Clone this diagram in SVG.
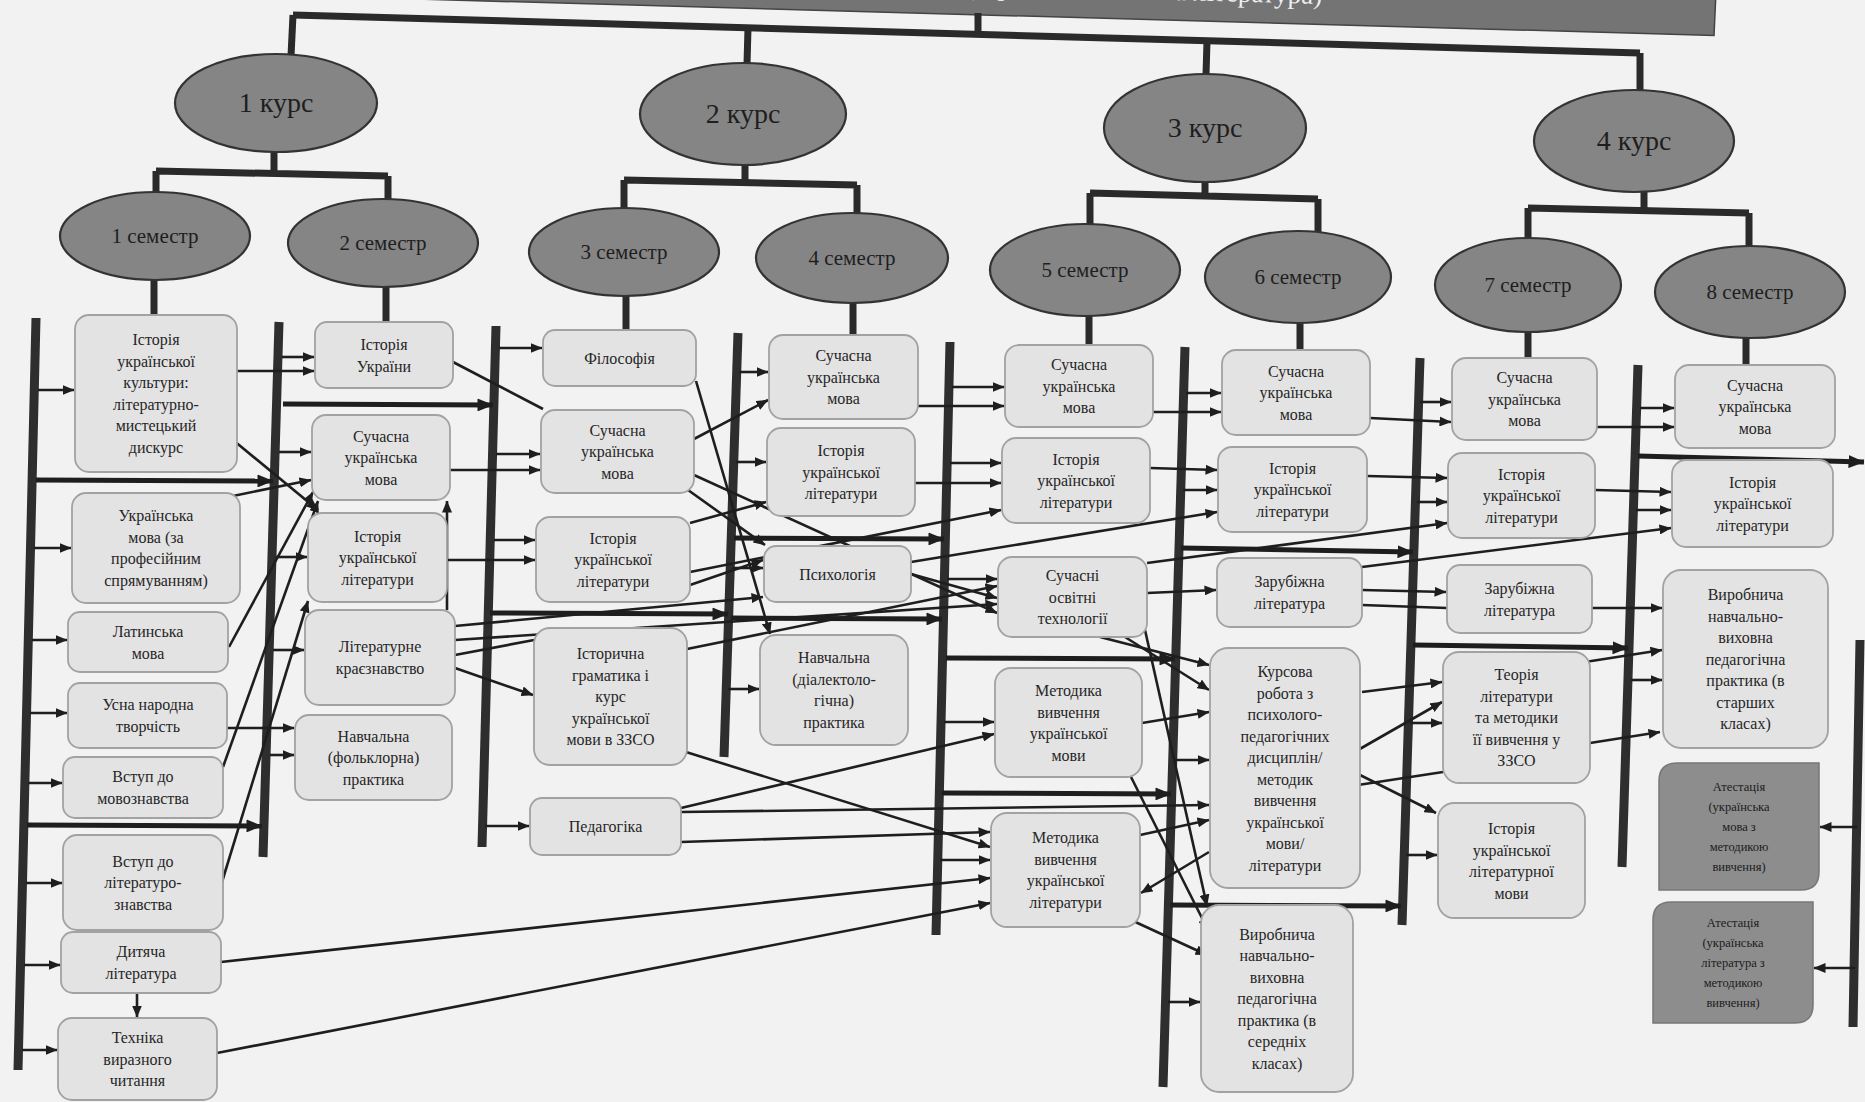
<svg xmlns="http://www.w3.org/2000/svg" width="1865" height="1102" viewBox="0 0 1865 1102">
<defs>
<marker id="ah" viewBox="0 0 12 10" refX="11.5" refY="5" markerWidth="12" markerHeight="10" markerUnits="userSpaceOnUse" orient="auto"><path d="M0,0 L12,5 L0,10 z" fill="#1e1e1e"/></marker>
<marker id="ahT" viewBox="0 0 16 13" refX="15.5" refY="6.5" markerWidth="16" markerHeight="13" markerUnits="userSpaceOnUse" orient="auto"><path d="M0,0 L16,6.5 L0,13 z" fill="#1e1e1e"/></marker>
</defs>
<style>
.tree{stroke:#2a2a2a;stroke-width:7;fill:none;stroke-linejoin:miter}
.rail{stroke:#2e2e2e;stroke-width:9;fill:none}
.c{stroke:#1e1e1e;stroke-width:2.6;fill:none;marker-end:url(#ah)}
.cn{stroke:#1e1e1e;stroke-width:2.6;fill:none}
.t{stroke:#1e1e1e;stroke-width:5;fill:none;marker-end:url(#ahT)}
.el{fill:#858585;stroke:#333;stroke-width:2.2}
.box{fill:#e3e3e3;stroke:#a2a2a2;stroke-width:1.8}
.att{fill:#8d8d8d;stroke:#777;stroke-width:1.5}
.et{font-family:"Liberation Serif",serif;fill:#1e1e1e;text-anchor:middle}
.bt{font-family:"Liberation Serif",serif;font-size:16px;fill:#262626;text-anchor:middle}
.at{font-family:"Liberation Serif",serif;font-size:12.5px;fill:#1c1c1c;text-anchor:middle}
</style>
<rect x="0" y="0" width="1865" height="1102" fill="#f2f2f2"/>

<g id="banner">
<polygon points="380,-30 1717,-30 1714,35.4 380,-2" fill="#747474" stroke="#444" stroke-width="1.5"/>
<text x="1322" y="4" transform="rotate(1.6 1322 4)" font-family="Liberation Serif, serif" font-size="27" fill="#eeeeee" text-anchor="end">(українська мова та література)</text>
</g>

<g id="tree">
<path class="tree" d="M293,15 L1640,53"/>
<path class="tree" d="M293,15 L291,56"/>
<path class="tree" d="M748,28 L747,64"/>
<path class="tree" d="M978,34 L978,13"/>
<path class="tree" d="M1207,41 L1206,75"/>
<path class="tree" d="M1640,53 L1640,90"/>
<path class="tree" d="M274,151 L274,172 M156,171 L388,176 M156,171 L156,193 M388,176 L388,200"/>
<path class="tree" d="M154,279 L154,316 M386,286 L386,323"/>
<path class="tree" d="M745,164 L745,182 M624,180 L857,185 M624,180 L624,209 M857,185 L857,214"/>
<path class="tree" d="M626,295 L626,331 M853,302 L853,336"/>
<path class="tree" d="M1205,181 L1205,195 M1090,193 L1318,199 M1090,193 L1090,225 M1318,199 L1318,232"/>
<path class="tree" d="M1089,315 L1089,346 M1300,322 L1300,351"/>
<path class="tree" d="M1644,191 L1644,210 M1528,208 L1749,213 M1528,208 L1528,239 M1749,213 L1749,247"/>
<path class="tree" d="M1528,331 L1528,359 M1746,337 L1746,366"/>
</g>

<g id="rails">
<path class="rail" d="M36,318 L18,1070"/>
<path class="rail" d="M279,322 L263,857"/>
<path class="rail" d="M496,326 L482,847"/>
<path class="rail" d="M738,333 L724,757"/>
<path class="rail" d="M950,342 L936,935"/>
<path class="rail" d="M1185,347 L1163,1087"/>
<path class="rail" d="M1420,358 L1402,925"/>
<path class="rail" d="M1638,365 L1622,867"/>
<path class="rail" d="M1860,640 L1853,1027"/>
</g>

<g id="connectors">
<path class="c" d="M38,390 L74,390"/>
<path class="c" d="M34,548 L71,548"/>
<path class="c" d="M32,640 L67,640"/>
<path class="c" d="M30,713 L67,713"/>
<path class="c" d="M28,783 L62,783"/>
<path class="c" d="M26,883 L62,883"/>
<path class="c" d="M24,965 L60,965"/>
<path class="c" d="M22,1050 L57,1050"/>
<path class="t" d="M36,480 L273,481"/>
<path class="t" d="M27,825 L262,826"/>
<path class="c" d="M282,357 L314,357"/>
<path class="c" d="M237,371 L314,371"/>
<path class="c" d="M233,440 L318,510"/>
<path class="c" d="M228,497 L311,480"/>
<path class="c" d="M229,647 L313,492"/>
<path class="c" d="M223,767 L318,501"/>
<path class="c" d="M222,882 L308,601"/>
<path class="c" d="M279,452 L311,452"/>
<path class="c" d="M276,557 L307,557"/>
<path class="c" d="M273,650 L304,650"/>
<path class="c" d="M227,728 L294,728"/>
<path class="c" d="M270,755 L294,755"/>
<path class="c" d="M447,610 L447,501"/>
<path class="c" d="M221,962 L990,878"/>
<path class="c" d="M217,1053 L990,903"/>
<path class="c" d="M137,993 L137,1017"/>
<path class="t" d="M283,404 L493,405"/>
<path class="c" d="M499,348 L542,348"/>
<path class="cn" d="M453,362 L543,409"/>
<path class="c" d="M496,454 L540,454"/>
<path class="c" d="M450,470 L540,470"/>
<path class="c" d="M494,540 L535,540"/>
<path class="c" d="M447,560 L535,560"/>
<path class="c" d="M455,668 L533,695"/>
<path class="c" d="M455,626 L763,597"/>
<path class="c" d="M455,640 L997,604"/>
<path class="cn" d="M455,655 L534,640"/>
<path class="c" d="M485,826 L529,826"/>
<path class="t" d="M490,613 L728,614"/>
<path class="c" d="M739,372 L768,372"/>
<path class="c" d="M694,439 L768,400"/>
<path class="c" d="M736,462 L766,462"/>
<path class="c" d="M690,523 L766,502"/>
<path class="c" d="M732,568 L763,568"/>
<path class="c" d="M690,585 L763,560"/>
<path class="c" d="M696,381 L770,634"/>
<path class="c" d="M688,490 L765,545"/>
<path class="c" d="M694,475 L997,613"/>
<path class="c" d="M690,572 L1001,510"/>
<path class="c" d="M687,649 L997,586"/>
<path class="c" d="M686,752 L990,847"/>
<path class="c" d="M728,689 L759,689"/>
<path class="c" d="M681,808 L994,734"/>
<path class="c" d="M681,812 L1209,805"/>
<path class="c" d="M681,842 L990,832"/>
<path class="t" d="M734,538 L944,539"/>
<path class="t" d="M731,618 L942,619"/>
<path class="c" d="M952,387 L1004,387"/>
<path class="c" d="M918,406 L1004,406"/>
<path class="c" d="M950,463 L1001,463"/>
<path class="c" d="M915,483 L1001,483"/>
<path class="c" d="M911,574 L997,598"/>
<path class="c" d="M911,562 L1217,512"/>
<path class="c" d="M947,579 L997,579"/>
<path class="c" d="M944,722 L994,722"/>
<path class="c" d="M940,860 L990,860"/>
<path class="t" d="M946,658 L1175,659"/>
<path class="t" d="M942,793 L1171,794"/>
<path class="c" d="M1186,393 L1221,393"/>
<path class="c" d="M1153,412 L1221,412"/>
<path class="c" d="M1150,468 L1217,470"/>
<path class="c" d="M1183,490 L1217,490"/>
<path class="t" d="M1181,548 L1413,552"/>
<path class="c" d="M1147,593 L1216,590"/>
<path class="c" d="M1147,563 L1447,523"/>
<path class="c" d="M1100,637 L1209,665"/>
<path class="c" d="M1125,637 L1209,690"/>
<path class="c" d="M1145,630 L1207,906"/>
<path class="c" d="M1142,723 L1209,712"/>
<path class="c" d="M1131,777 L1208,930"/>
<path class="c" d="M1175,760 L1209,760"/>
<path class="c" d="M1140,835 L1209,820"/>
<path class="c" d="M1209,852 L1141,893"/>
<path class="c" d="M1131,920 L1207,955"/>
<path class="c" d="M1168,1002 L1200,1002"/>
<path class="t" d="M1170,905 L1401,906"/>
<path class="c" d="M1420,402 L1451,402"/>
<path class="c" d="M1370,418 L1451,422"/>
<path class="c" d="M1367,476 L1447,478"/>
<path class="c" d="M1417,502 L1447,502"/>
<path class="c" d="M1362,590 L1446,592"/>
<path class="cn" d="M1362,605 L1447,608"/>
<path class="c" d="M1362,567 L1671,528"/>
<path class="t" d="M1413,645 L1628,648"/>
<path class="c" d="M1362,692 L1442,682"/>
<path class="c" d="M1410,723 L1442,723"/>
<path class="c" d="M1358,750 L1442,702"/>
<path class="cn" d="M1443,772 L1358,785"/>
<path class="c" d="M1360,775 L1436,813"/>
<path class="c" d="M1406,855 L1437,855"/>
<path class="c" d="M1640,408 L1674,408"/>
<path class="c" d="M1597,427 L1674,427"/>
<path class="t" d="M1638,456 L1864,462"/>
<path class="c" d="M1595,490 L1671,492"/>
<path class="c" d="M1636,510 L1671,510"/>
<path class="c" d="M1592,608 L1662,608"/>
<path class="c" d="M1585,662 L1662,650"/>
<path class="c" d="M1631,680 L1662,680"/>
<path class="c" d="M1590,743 L1660,732"/>
<path class="c" d="M1857,827 L1820,827"/>
<path class="c" d="M1855,968 L1814,968"/>
</g>

<g id="kurs1"><ellipse class="el" cx="276" cy="103" rx="101" ry="49"/><text class="et" x="276" y="112" font-size="28">1 курс</text></g>
<g id="kurs2"><ellipse class="el" cx="743" cy="114" rx="103" ry="51"/><text class="et" x="743" y="123" font-size="28">2 курс</text></g>
<g id="kurs3"><ellipse class="el" cx="1205" cy="128" rx="101" ry="54"/><text class="et" x="1205" y="137" font-size="28">3 курс</text></g>
<g id="kurs4"><ellipse class="el" cx="1634" cy="141" rx="100" ry="51"/><text class="et" x="1634" y="150" font-size="28">4 курс</text></g>
<g id="sem1"><ellipse class="el" cx="155" cy="236" rx="95" ry="44"/><text class="et" x="155" y="243" font-size="21">1 семестр</text></g>
<g id="sem2"><ellipse class="el" cx="383" cy="243" rx="95" ry="44"/><text class="et" x="383" y="250" font-size="21">2 семестр</text></g>
<g id="sem3"><ellipse class="el" cx="624" cy="252" rx="95" ry="44"/><text class="et" x="624" y="259" font-size="21">3 семестр</text></g>
<g id="sem4"><ellipse class="el" cx="852" cy="258" rx="96" ry="45"/><text class="et" x="852" y="265" font-size="21">4 семестр</text></g>
<g id="sem5"><ellipse class="el" cx="1085" cy="270" rx="95" ry="46"/><text class="et" x="1085" y="277" font-size="21">5 семестр</text></g>
<g id="sem6"><ellipse class="el" cx="1298" cy="277" rx="93" ry="46"/><text class="et" x="1298" y="284" font-size="21">6 семестр</text></g>
<g id="sem7"><ellipse class="el" cx="1528" cy="285" rx="93" ry="47"/><text class="et" x="1528" y="292" font-size="21">7 семестр</text></g>
<g id="sem8"><ellipse class="el" cx="1750" cy="292" rx="95" ry="46"/><text class="et" x="1750" y="299" font-size="21">8 семестр</text></g>

<g id="b1_1"><rect class="box" x="75" y="315" width="162" height="157" rx="14"/><text class="bt" x="156" y="345"><tspan x="156">Історія</tspan><tspan x="156" dy="21.5">української</tspan><tspan x="156" dy="21.5">культури:</tspan><tspan x="156" dy="21.5">літературно-</tspan><tspan x="156" dy="21.5">мистецький</tspan><tspan x="156" dy="21.5">дискурс</tspan></text></g>
<g id="b1_2"><rect class="box" x="72" y="493" width="168" height="110" rx="14"/><text class="bt" x="156" y="521"><tspan x="156">Українська</tspan><tspan x="156" dy="21.5">мова (за</tspan><tspan x="156" dy="21.5">професійним</tspan><tspan x="156" dy="21.5">спрямуванням)</tspan></text></g>
<g id="b1_3"><rect class="box" x="68" y="612" width="160" height="60" rx="12"/><text class="bt" x="148" y="637"><tspan x="148">Латинська</tspan><tspan x="148" dy="21.5">мова</tspan></text></g>
<g id="b1_4"><rect class="box" x="68" y="683" width="159" height="65" rx="12"/><text class="bt" x="148" y="710"><tspan x="148">Усна народна</tspan><tspan x="148" dy="21.5">творчість</tspan></text></g>
<g id="b1_5"><rect class="box" x="63" y="757" width="160" height="61" rx="12"/><text class="bt" x="143" y="782"><tspan x="143">Вступ до</tspan><tspan x="143" dy="21.5">мовознавства</tspan></text></g>
<g id="b1_6"><rect class="box" x="63" y="835" width="160" height="95" rx="14"/><text class="bt" x="143" y="866.6"><tspan x="143">Вступ до</tspan><tspan x="143" dy="21.5">літературо-</tspan><tspan x="143" dy="21.5">знавства</tspan></text></g>
<g id="b1_7"><rect class="box" x="61" y="932" width="160" height="61" rx="12"/><text class="bt" x="141" y="957"><tspan x="141">Дитяча</tspan><tspan x="141" dy="21.5">література</tspan></text></g>
<g id="b1_8"><rect class="box" x="58" y="1018" width="159" height="82" rx="14"/><text class="bt" x="137.5" y="1043"><tspan x="137.5">Техніка</tspan><tspan x="137.5" dy="21.5">виразного</tspan><tspan x="137.5" dy="21.5">читання</tspan></text></g>

<g id="b2_1"><rect class="box" x="315" y="322" width="138" height="66" rx="12"/><text class="bt" x="384" y="350"><tspan x="384">Історія</tspan><tspan x="384" dy="21.5">України</tspan></text></g>
<g id="b2_2"><rect class="box" x="312" y="415" width="138" height="85" rx="14"/><text class="bt" x="381" y="441.6"><tspan x="381">Сучасна</tspan><tspan x="381" dy="21.5">українська</tspan><tspan x="381" dy="21.5">мова</tspan></text></g>
<g id="b2_3"><rect class="box" x="308" y="513" width="139" height="89" rx="14"/><text class="bt" x="377.5" y="541.6"><tspan x="377.5">Історія</tspan><tspan x="377.5" dy="21.5">української</tspan><tspan x="377.5" dy="21.5">літератури</tspan></text></g>
<g id="b2_4"><rect class="box" x="305" y="610" width="150" height="95" rx="14"/><text class="bt" x="380" y="652"><tspan x="380">Літературне</tspan><tspan x="380" dy="21.5">краєзнавство</tspan></text></g>
<g id="b2_5"><rect class="box" x="295" y="715" width="157" height="85" rx="14"/><text class="bt" x="373.5" y="741.6"><tspan x="373.5">Навчальна</tspan><tspan x="373.5" dy="21.5">(фольклорна)</tspan><tspan x="373.5" dy="21.5">практика</tspan></text></g>

<g id="b3_1"><rect class="box" x="543" y="330" width="153" height="56" rx="12"/><text class="bt" x="619.5" y="363.6">Філософія</text></g>
<g id="b3_2"><rect class="box" x="541" y="410" width="153" height="83" rx="14"/><text class="bt" x="617.5" y="435.6"><tspan x="617.5">Сучасна</tspan><tspan x="617.5" dy="21.5">українська</tspan><tspan x="617.5" dy="21.5">мова</tspan></text></g>
<g id="b3_3"><rect class="box" x="536" y="517" width="154" height="85" rx="14"/><text class="bt" x="613" y="543.6"><tspan x="613">Історія</tspan><tspan x="613" dy="21.5">української</tspan><tspan x="613" dy="21.5">літератури</tspan></text></g>
<g id="b3_4"><rect class="box" x="534" y="628" width="153" height="137" rx="16"/><text class="bt" x="610.5" y="659"><tspan x="610.5">Історична</tspan><tspan x="610.5" dy="21.5">граматика і</tspan><tspan x="610.5" dy="21.5">курс</tspan><tspan x="610.5" dy="21.5">української</tspan><tspan x="610.5" dy="21.5">мови в ЗЗСО</tspan></text></g>
<g id="b3_5"><rect class="box" x="530" y="798" width="151" height="57" rx="12"/><text class="bt" x="605.5" y="832">Педагогіка</text></g>

<g id="b4_1"><rect class="box" x="769" y="335" width="149" height="84" rx="14"/><text class="bt" x="843.5" y="361"><tspan x="843.5">Сучасна</tspan><tspan x="843.5" dy="21.5">українська</tspan><tspan x="843.5" dy="21.5">мова</tspan></text></g>
<g id="b4_2"><rect class="box" x="767" y="428" width="148" height="88" rx="14"/><text class="bt" x="841" y="456"><tspan x="841">Історія</tspan><tspan x="841" dy="21.5">української</tspan><tspan x="841" dy="21.5">літератури</tspan></text></g>
<g id="b4_3"><rect class="box" x="764" y="546" width="147" height="56" rx="12"/><text class="bt" x="837.5" y="579.6">Психологія</text></g>
<g id="b4_4"><rect class="box" x="760" y="635" width="148" height="110" rx="16"/><text class="bt" x="834" y="663"><tspan x="834">Навчальна</tspan><tspan x="834" dy="21.5">(діалектоло-</tspan><tspan x="834" dy="21.5">гічна)</tspan><tspan x="834" dy="21.5">практика</tspan></text></g>

<g id="b5_1"><rect class="box" x="1005" y="345" width="148" height="82" rx="14"/><text class="bt" x="1079" y="370"><tspan x="1079">Сучасна</tspan><tspan x="1079" dy="21.5">українська</tspan><tspan x="1079" dy="21.5">мова</tspan></text></g>
<g id="b5_2"><rect class="box" x="1002" y="438" width="148" height="85" rx="14"/><text class="bt" x="1076" y="464.6"><tspan x="1076">Історія</tspan><tspan x="1076" dy="21.5">української</tspan><tspan x="1076" dy="21.5">літератури</tspan></text></g>
<g id="b5_3"><rect class="box" x="998" y="557" width="149" height="80" rx="14"/><text class="bt" x="1072.5" y="581"><tspan x="1072.5">Сучасні</tspan><tspan x="1072.5" dy="21.5">освітні</tspan><tspan x="1072.5" dy="21.5">технології</tspan></text></g>
<g id="b5_4"><rect class="box" x="995" y="668" width="147" height="109" rx="16"/><text class="bt" x="1068.5" y="696"><tspan x="1068.5">Методика</tspan><tspan x="1068.5" dy="21.5">вивчення</tspan><tspan x="1068.5" dy="21.5">української</tspan><tspan x="1068.5" dy="21.5">мови</tspan></text></g>
<g id="b5_5"><rect class="box" x="991" y="813" width="149" height="114" rx="16"/><text class="bt" x="1065.5" y="843"><tspan x="1065.5">Методика</tspan><tspan x="1065.5" dy="21.5">вивчення</tspan><tspan x="1065.5" dy="21.5">української</tspan><tspan x="1065.5" dy="21.5">літератури</tspan></text></g>

<g id="b6_1"><rect class="box" x="1222" y="350" width="148" height="85" rx="14"/><text class="bt" x="1296" y="376.6"><tspan x="1296">Сучасна</tspan><tspan x="1296" dy="21.5">українська</tspan><tspan x="1296" dy="21.5">мова</tspan></text></g>
<g id="b6_2"><rect class="box" x="1218" y="447" width="149" height="85" rx="14"/><text class="bt" x="1292.5" y="473.6"><tspan x="1292.5">Історія</tspan><tspan x="1292.5" dy="21.5">української</tspan><tspan x="1292.5" dy="21.5">літератури</tspan></text></g>
<g id="b6_3"><rect class="box" x="1217" y="558" width="145" height="69" rx="13"/><text class="bt" x="1289.5" y="587"><tspan x="1289.5">Зарубіжна</tspan><tspan x="1289.5" dy="21.5">література</tspan></text></g>
<g id="b6_4"><rect class="box" x="1210" y="648" width="150" height="240" rx="18"/><text class="bt" x="1285" y="677"><tspan x="1285">Курсова</tspan><tspan x="1285" dy="21.5">робота з</tspan><tspan x="1285" dy="21.5">психолого-</tspan><tspan x="1285" dy="21.5">педагогічних</tspan><tspan x="1285" dy="21.5">дисциплін/</tspan><tspan x="1285" dy="21.5">методик</tspan><tspan x="1285" dy="21.5">вивчення</tspan><tspan x="1285" dy="21.5">української</tspan><tspan x="1285" dy="21.5">мови/</tspan><tspan x="1285" dy="21.5">літератури</tspan></text></g>
<g id="b6_5"><rect class="box" x="1201" y="905" width="152" height="187" rx="18"/><text class="bt" x="1277" y="939.6"><tspan x="1277">Виробнича</tspan><tspan x="1277" dy="21.5">навчально-</tspan><tspan x="1277" dy="21.5">виховна</tspan><tspan x="1277" dy="21.5">педагогічна</tspan><tspan x="1277" dy="21.5">практика (в</tspan><tspan x="1277" dy="21.5">середніх</tspan><tspan x="1277" dy="21.5">класах)</tspan></text></g>

<g id="b7_1"><rect class="box" x="1452" y="358" width="145" height="82" rx="14"/><text class="bt" x="1524.5" y="383"><tspan x="1524.5">Сучасна</tspan><tspan x="1524.5" dy="21.5">українська</tspan><tspan x="1524.5" dy="21.5">мова</tspan></text></g>
<g id="b7_2"><rect class="box" x="1448" y="453" width="147" height="85" rx="14"/><text class="bt" x="1521.5" y="479.6"><tspan x="1521.5">Історія</tspan><tspan x="1521.5" dy="21.5">української</tspan><tspan x="1521.5" dy="21.5">літератури</tspan></text></g>
<g id="b7_3"><rect class="box" x="1447" y="565" width="145" height="68" rx="13"/><text class="bt" x="1519.5" y="594"><tspan x="1519.5">Зарубіжна</tspan><tspan x="1519.5" dy="21.5">література</tspan></text></g>
<g id="b7_4"><rect class="box" x="1443" y="652" width="147" height="131" rx="16"/><text class="bt" x="1516.5" y="680"><tspan x="1516.5">Теорія</tspan><tspan x="1516.5" dy="21.5">літератури</tspan><tspan x="1516.5" dy="21.5">та методики</tspan><tspan x="1516.5" dy="21.5">її вивчення у</tspan><tspan x="1516.5" dy="21.5">ЗЗСО</tspan></text></g>
<g id="b7_5"><rect class="box" x="1438" y="803" width="147" height="115" rx="16"/><text class="bt" x="1511.5" y="834"><tspan x="1511.5">Історія</tspan><tspan x="1511.5" dy="21.5">української</tspan><tspan x="1511.5" dy="21.5">літературної</tspan><tspan x="1511.5" dy="21.5">мови</tspan></text></g>

<g id="b8_1"><rect class="box" x="1675" y="365" width="160" height="83" rx="14"/><text class="bt" x="1755" y="390.6"><tspan x="1755">Сучасна</tspan><tspan x="1755" dy="21.5">українська</tspan><tspan x="1755" dy="21.5">мова</tspan></text></g>
<g id="b8_2"><rect class="box" x="1672" y="460" width="161" height="87" rx="14"/><text class="bt" x="1752.5" y="487.6"><tspan x="1752.5">Історія</tspan><tspan x="1752.5" dy="21.5">української</tspan><tspan x="1752.5" dy="21.5">літератури</tspan></text></g>
<g id="b8_3"><rect class="box" x="1663" y="570" width="165" height="178" rx="18"/><text class="bt" x="1745.5" y="600"><tspan x="1745.5">Виробнича</tspan><tspan x="1745.5" dy="21.5">навчально-</tspan><tspan x="1745.5" dy="21.5">виховна</tspan><tspan x="1745.5" dy="21.5">педагогічна</tspan><tspan x="1745.5" dy="21.5">практика (в</tspan><tspan x="1745.5" dy="21.5">старших</tspan><tspan x="1745.5" dy="21.5">класах)</tspan></text></g>
<g id="b8_4"><path class="att" d="M1659,781 Q1659,763 1677,763 L1819,763 L1819,872 Q1819,890 1801,890 L1659,890 Z"/><text class="at" x="1739" y="791"><tspan x="1739">Атестація</tspan><tspan x="1739" dy="20">(українська</tspan><tspan x="1739" dy="20">мова з</tspan><tspan x="1739" dy="20">методикою</tspan><tspan x="1739" dy="20">вивчення)</tspan></text></g>
<g id="b8_5"><path class="att" d="M1653,920 Q1653,902 1671,902 L1813,902 L1813,1005 Q1813,1023 1795,1023 L1653,1023 Z"/><text class="at" x="1733" y="927"><tspan x="1733">Атестація</tspan><tspan x="1733" dy="20">(українська</tspan><tspan x="1733" dy="20">література з</tspan><tspan x="1733" dy="20">методикою</tspan><tspan x="1733" dy="20">вивчення)</tspan></text></g>
</svg>
